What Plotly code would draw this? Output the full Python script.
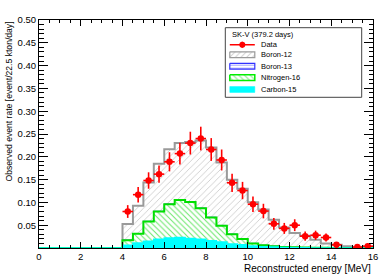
import numpy as np
import plotly.graph_objects as go

# ---------------- data ----------------
bin_width = 0.5
edges = np.arange(0.0, 16.0 + bin_width / 2, bin_width)   # 0 .. 16
first_bin = 8                                              # histograms start at 4 MeV

b12 = [0.035, 0.061, 0.085, 0.104, 0.120, 0.125, 0.131, 0.148, 0.153, 0.138, 0.119, 0.110,
       0.090, 0.078, 0.058, 0.043, 0.0315, 0.026, 0.0175, 0.0097, 0.0068, 0.0039, 0.002, 0.001]
b13 = [0.0005, 0.0005, 0.0005, 0.0005, 0.0005, 0.0005, 0.0005, 0.0005, 0.0005, 0.0005, 0.0005,
       0.0002, 0.0002, 0.0002, 0.0002, 0.0002, 0, 0, 0, 0, 0, 0, 0, 0]
n16 = [0.011, 0.020, 0.043, 0.061, 0.074, 0.082, 0.080, 0.068, 0.051, 0.036, 0.021, 0.013,
       0.0055, 0.003, 0.0018, 0.0008, 0.0008, 0.0006, 0.0003, 0.0003, 0.0002, 0.0001, 0, 0]
c15 = [0.006, 0.011, 0.015, 0.019, 0.022, 0.023, 0.021, 0.019, 0.016, 0.013, 0.009, 0.007,
       0.0045, 0.003, 0.002, 0.0012, 0.0007, 0.0004, 0.0002, 0, 0, 0, 0, 0]

data_centers = [4.25, 4.75, 5.25, 5.75, 6.25, 6.75, 7.25, 7.75, 8.25, 8.75, 9.25, 9.75,
                10.25, 10.75, 11.25, 11.75, 12.25, 12.75, 13.25, 13.75, 14.25, 14.75, 15.25, 15.75]
data_vals = [0.080, 0.117, 0.148, 0.162, 0.189, 0.207, 0.230, 0.240, 0.216, 0.193, 0.143, 0.126,
             0.096, 0.081, 0.053, 0.043, 0.050, 0.026, 0.028, 0.023, 0.007, None, 0.002, 0.004]
data_errs = [0.014, 0.017, 0.018, 0.019, 0.021, 0.024, 0.025, 0.026, 0.025, 0.023, 0.020, 0.019,
             0.017, 0.016, 0.013, 0.012, 0.013, 0.010, 0.010, 0.009, 0.005, None, 0.003, 0.004]

x_ticks = [0, 2, 4, 6, 8, 10, 12, 14, 16]
y_ticks = [0.05, 0.10, 0.15, 0.20, 0.25, 0.30, 0.35, 0.40, 0.45, 0.50]

legend_header = "SK-V (379.2 days)"
legend_names = ["Data", "Boron-12", "Boron-13", "Nitrogen-16", "Carbon-15"]

# ---------------- helpers ----------------
nbins = len(edges) - 1


def full(vals):
    arr = np.zeros(nbins)
    arr[first_bin:first_bin + len(vals)] = vals
    return arr


c15_f = full(c15)
n16_f = full(n16)
b13_f = full(b13)
b12_f = full(b12)

cum_c15 = c15_f
cum_n16 = cum_c15 + n16_f
cum_b13 = cum_n16 + b13_f
cum_b12 = cum_b13 + b12_f


def step_y(arr):
    return list(arr) + [arr[-1]]


FONT = "Liberation Sans, Arial, Helvetica, sans-serif"

fig = go.Figure()

# Boron-12 (total stack)
fig.add_trace(go.Scatter(
    x=edges, y=step_y(cum_b12), mode="lines", line=dict(shape="hv", color="#9a9a9a", width=2),
    fill="tozeroy", fillcolor="white",
    fillpattern=dict(shape="/", fgcolor="#9c9c9c", bgcolor="white", size=4.5, solidity=0.2),
    showlegend=False, hoverinfo="skip"))
# Boron-13
fig.add_trace(go.Scatter(
    x=edges, y=step_y(cum_b13), mode="lines", line=dict(shape="hv", color="#3333ff", width=1),
    fill="tozeroy", fillcolor="white",
    fillpattern=dict(shape="-", fgcolor="#3333ff", bgcolor="white", size=4, solidity=0.2),
    showlegend=False, hoverinfo="skip"))
# Nitrogen-16
fig.add_trace(go.Scatter(
    x=edges, y=step_y(cum_n16), mode="lines", line=dict(shape="hv", color="#00e000", width=2),
    fill="tozeroy", fillcolor="white",
    fillpattern=dict(shape="\\", fgcolor="#33dd33", bgcolor="white", size=4, solidity=0.25,
                     fgopacity=0.75),
    showlegend=False, hoverinfo="skip"))
# Carbon-15
fig.add_trace(go.Scatter(
    x=edges, y=step_y(cum_c15), mode="lines", line=dict(shape="hv", color="#00ffff", width=1.5),
    fill="tozeroy", fillcolor="#00ffff",
    showlegend=False, hoverinfo="skip"))

# Data
fig.add_trace(go.Scatter(
    x=data_centers, y=data_vals, mode="markers",
    marker=dict(color="#ff0000", size=6.5, symbol="circle"),
    error_y=dict(type="data", array=data_errs, color="#ff0000", thickness=1.6, width=0),
    error_x=dict(type="constant", value=bin_width / 2, color="#ff0000", thickness=1.6, width=0),
    showlegend=False, hoverinfo="skip"))

# ---------------- legend (drawn on its own small axes) ----------------
W, H = 389, 279
ml, mr, mt, mb = 39, 16, 20, 31
pw, ph = W - ml - mr, H - mt - mb
box_px = (225.3, 27.7, 361.7, 97.3)   # legend box in page pixels (l, t, r, b)
lx0 = (box_px[0] - ml) / pw
lx1 = (box_px[2] - ml) / pw
ly1 = 1 - (box_px[1] - mt) / ph
ly0 = 1 - (box_px[3] - mt) / ph
bw = box_px[2] - box_px[0]
bh = box_px[3] - box_px[1]

sw_l, sw_r, sw_h = 4.5, 29.5, 2.9
text_x = 34.0
row_y = [17.0, 27.0, 38.5, 50.0, 61.8]

# Data swatch
fig.add_trace(go.Scatter(
    x=[sw_l, sw_r], y=[row_y[0], row_y[0]], mode="lines", line=dict(color="#ff0000", width=1.6),
    xaxis="x2", yaxis="y2", showlegend=False, hoverinfo="skip"))
fig.add_trace(go.Scatter(
    x=[(sw_l + sw_r) / 2], y=[row_y[0]], mode="markers",
    marker=dict(color="#ff0000", size=6),
    error_y=dict(type="constant", value=3, color="#ff0000", thickness=1.6, width=0),
    xaxis="x2", yaxis="y2", showlegend=False, hoverinfo="skip"))

swatches = [
    dict(line=dict(color="#9a9a9a", width=1.2),
         pattern=dict(shape="/", fgcolor="#a0a0a0", bgcolor="white", size=4, solidity=0.25), fill="white"),
    dict(line=dict(color="#3333ff", width=1.2),
         pattern=dict(shape="-", fgcolor="#3333ff", bgcolor="white", size=3, solidity=0.3), fill="white"),
    dict(line=dict(color="#00ee00", width=1.5),
         pattern=dict(shape="\\", fgcolor="#33dd33", bgcolor="white", size=4, solidity=0.3), fill="white"),
    dict(line=dict(color="#00ffff", width=0.5), pattern=None, fill="#00ffff"),
]
for yc, sw in zip(row_y[1:], swatches):
    kw = dict(fillpattern=sw["pattern"]) if sw["pattern"] else {}
    fig.add_trace(go.Scatter(
        x=[sw_l, sw_r, sw_r, sw_l, sw_l],
        y=[yc - sw_h, yc - sw_h, yc + sw_h, yc + sw_h, yc - sw_h],
        mode="lines", fill="toself", fillcolor=sw["fill"], line=sw["line"],
        xaxis="x2", yaxis="y2", showlegend=False, hoverinfo="skip", **kw))

annotations = []
annotations.append(dict(xref="x2", yref="y2", x=4.3, y=6.5, text=legend_header, showarrow=False,
                        xanchor="left", yanchor="middle", font=dict(family=FONT, size=7.5, color="black")))
for yc, name in zip(row_y, legend_names):
    annotations.append(dict(xref="x2", yref="y2", x=text_x, y=yc, text=name, showarrow=False,
                            xanchor="left", yanchor="middle",
                            font=dict(family=FONT, size=7.5, color="black")))

# axis titles
annotations.append(dict(xref="paper", yref="paper", x=1.0, y=-(268.5 - (H - mb)) / ph,
                        text="Reconstructed energy [MeV]", showarrow=False,
                        xanchor="right", yanchor="middle",
                        font=dict(family=FONT, size=10, color="black")))
annotations.append(dict(xref="paper", yref="paper", x=-(ml - 8.5) / pw, y=1.0,
                        text="Observed event rate [event/22.5 kton/day]", showarrow=False,
                        textangle=-90, xanchor="center", yanchor="top",
                        font=dict(family=FONT, size=8.6, color="black")))

fig.update_layout(
    width=W, height=H,
    margin=dict(l=ml, r=mr, t=mt, b=mb, pad=0),
    paper_bgcolor="white", plot_bgcolor="white",
    showlegend=False,
    annotations=annotations,
    shapes=[dict(type="rect", xref="paper", yref="paper", x0=lx0, x1=lx1, y0=ly0, y1=ly1,
                 line=dict(color="#444444", width=1), fillcolor="rgba(0,0,0,0)", layer="above")],
    xaxis=dict(range=[0, 16], tickmode="array", tickvals=x_ticks, ticktext=[str(v) for v in x_ticks],
               ticks="inside", ticklen=6, tickwidth=1, tickcolor="black",
               minor=dict(dtick=0.5, tick0=0, ticks="inside", ticklen=3, tickcolor="black", tickwidth=1),
               showline=True, linecolor="black", linewidth=1, mirror="allticks",
               showgrid=False, zeroline=False,
               tickfont=dict(family=FONT, size=9.5, color="black")),
    yaxis=dict(range=[0, 0.5], tickmode="array", tickvals=y_ticks,
               ticktext=["%.2f" % v for v in y_ticks],
               ticks="inside", ticklen=9, tickwidth=1, tickcolor="black",
               minor=dict(dtick=0.01, tick0=0, ticks="inside", ticklen=4.5, tickcolor="black", tickwidth=1),
               showline=True, linecolor="black", linewidth=1, mirror="allticks",
               showgrid=False, zeroline=False,
               tickfont=dict(family=FONT, size=9.5, color="black")),
    xaxis2=dict(domain=[lx0, lx1], range=[0, bw], anchor="y2", visible=False, fixedrange=True),
    yaxis2=dict(domain=[ly0, ly1], range=[bh, 0], anchor="x2", visible=False, fixedrange=True),
)

fig.write_html("out.html", config={"displayModeBar": False},
               post_script="document.body.style.margin='0px';document.body.style.overflow='hidden';")
